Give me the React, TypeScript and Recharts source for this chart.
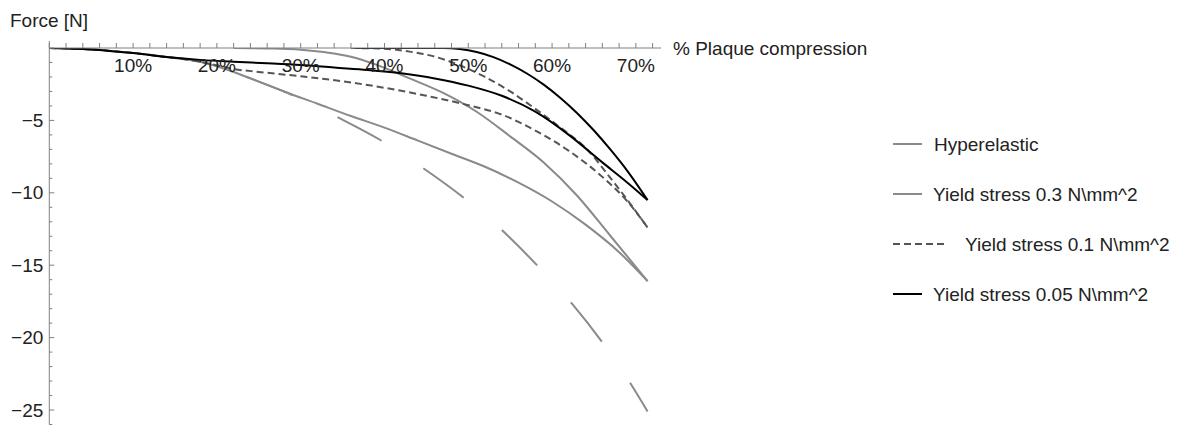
import React from 'react';
import { LineChart, Line, XAxis, YAxis, Legend, Label } from 'recharts';

// [% compression, force N]
const hyperelastic = [
  [0, 0], [5, -0.1], [10, -0.35], [14, -0.62], [18, -0.95], [21, -1.45], [24, -2.1], [28, -3.0],
  [31, -3.8], [34.3, -4.75], [39.7, -6.42], [44.6, -8.29], [49.5, -10.36], [54, -12.57],
  [58.3, -15.06], [62.3, -17.6], [66.1, -20.4], [69.4, -23.2], [71.4, -25.1],
];
const yield03Load = [
  [0, 0], [5, -0.1], [10, -0.35], [14, -0.62], [18, -0.95], [21, -1.45], [24, -2.1], [28, -3.0],
  [32, -3.85], [36, -4.7], [40, -5.5], [44, -6.4], [48, -7.3], [52, -8.2], [56, -9.3],
  [60, -10.6], [64, -12.2], [68, -14.1], [71.4, -16.1],
];
const yield03Reload = [
  [22, 0], [26, -0.03], [30, -0.12], [33, -0.3], [36, -0.6], [39, -1.15], [43, -2.1], [47, -3.1],
  [51, -4.4], [55, -6.1], [59, -7.9], [63, -10.2], [67, -13.0], [71.4, -16.1],
];
const yield01Load = [
  [0, 0], [5, -0.1], [10, -0.35], [14, -0.62], [18, -0.95], [20, -1.2], [22, -1.45], [25, -1.65],
  [30, -1.95], [35, -2.3], [40, -2.75], [45, -3.3], [50, -3.95], [54, -4.6], [58, -5.7],
  [62, -7.1], [66, -8.9], [69, -10.6], [71.4, -12.4],
];
const yield01Reload = [
  [36, 0], [40, -0.05], [43, -0.25], [46, -0.6], [49, -1.2], [52, -2.0], [55, -3.0], [58, -4.2],
  [61, -5.5], [64, -6.9], [67, -9.0], [69, -10.5], [71.4, -12.4],
];
const yield005Load = [
  [0, 0], [5, -0.1], [10, -0.35], [14, -0.62], [18, -0.82], [22, -0.95], [26, -1.05], [30, -1.17],
  [34, -1.35], [38, -1.52], [42, -1.75], [46, -2.1], [50, -2.6], [54, -3.3], [58, -4.4],
  [62, -6.0], [66, -7.9], [69, -9.3], [71.4, -10.5],
];
const yield005Reload = [
  [36.5, 0], [44, 0], [47, 0], [49, -0.07], [51, -0.28], [53, -0.63], [55, -1.13], [57, -1.76],
  [59, -2.53], [61, -3.45], [63, -4.5], [65, -5.7], [67, -7.04], [69, -8.5], [71.4, -10.5],
];

const xTicks = [0, 2, 4, 6, 8, 10, 12, 14, 16, 18, 20, 22, 24, 26, 28, 30, 32, 34, 36, 38, 40,
  42, 44, 46, 48, 50, 52, 54, 56, 58, 60, 62, 64, 66, 68, 70, 72];
const yTicks = [-26, -25, -24, -23, -22, -21, -20, -19, -18, -17, -16, -15, -14, -13, -12, -11,
  -10, -9, -8, -7, -6, -5, -4, -3, -2, -1, 0];

const legendItems = [
  { name: 'Hyperelastic', color: '#8a8a8a', dash: '', len: 29, gap: 12 },
  { name: 'Yield stress 0.3 N\\mm^2', color: '#8a8a8a', dash: '', len: 29, gap: 11 },
  { name: 'Yield stress 0.1 N\\mm^2', color: '#555555', dash: '7 4', len: 55, gap: 17 },
  { name: 'Yield stress 0.05 N\\mm^2', color: '#000000', dash: '', len: 29, gap: 11 },
];

const FONT = '"Liberation Sans", Arial, sans-serif';
const FS = 19;
const AXIS_X = 41.3;
const AXIS_Y = 40;
const AXIS_COLOR = '#808080';

const pts = (arr: number[][]) => arr.map(([x, y]) => ({ x, y }));

const XTick = (props: any) => {
  const { x, payload } = props;
  const v = payload.value;
  return (
    <g>
      <line x1={x} x2={x} y1={AXIS_Y} y2={AXIS_Y - 5} stroke={AXIS_COLOR} />
      {v % 10 === 0 && v > 0 && (
        <text x={x} y={AXIS_Y + 24} textAnchor="middle" fontSize={FS} fontFamily={FONT} fill="#222">
          {v}%
        </text>
      )}
    </g>
  );
};

const YTick = (props: any) => {
  const { y, payload } = props;
  const v = payload.value;
  const major = v % 5 === 0;
  return (
    <g>
      <line x1={AXIS_X} x2={AXIS_X + (major ? 5 : 3)} y1={y} y2={y} stroke={AXIS_COLOR} />
      {v === 0 && <line x1={AXIS_X} x2={AXIS_X} y1={y} y2={y - 7} stroke={AXIS_COLOR} />}
      {major && v !== 0 && (
        <text x={AXIS_X - 6} y={y} dy="0.35em" textAnchor="end" fontSize={FS} fontFamily={FONT} fill="#222">
          {'\u2212' + Math.abs(v)}
        </text>
      )}
    </g>
  );
};

const renderLegend = () => (
  <svg width={300} height={200} style={{ overflow: 'visible', display: 'block' }}>
    {legendItems.map((it, i) => {
      const cy = 16 + i * 50;
      return (
        <g key={it.name}>
          <line x1={0} x2={it.len} y1={cy} y2={cy} stroke={it.color} strokeWidth={2}
            strokeDasharray={it.dash || undefined} />
          <text x={it.len + it.gap} y={cy} dy="0.35em" fontSize={FS} fontFamily={FONT} fill="#222">
            {it.name}
          </text>
        </g>
      );
    })}
  </svg>
);

const series = [
  { key: 'hyper', data: hyperelastic, color: '#8a8a8a', dash: '50 50', width: 2 },
  { key: 'y03a', data: yield03Load, color: '#8a8a8a', dash: undefined, width: 2 },
  { key: 'y03b', data: yield03Reload, color: '#8a8a8a', dash: undefined, width: 2 },
  { key: 'y01a', data: yield01Load, color: '#555555', dash: '7 4', width: 2 },
  { key: 'y01b', data: yield01Reload, color: '#555555', dash: '7 4', width: 2 },
  { key: 'y005a', data: yield005Load, color: '#000000', dash: undefined, width: 2 },
  { key: 'y005b', data: yield005Reload, color: '#000000', dash: undefined, width: 2 },
];

export default function App() {
  return (
    <div style={{ width: 1174, height: 419 }}>
      <LineChart width={1174} height={419} margin={{ top: AXIS_Y - 1, right: 521, bottom: 2.5, left: AXIS_X - 1 }}>
        <XAxis
          type="number"
          dataKey="x"
          orientation="top"
          domain={[0, 73]}
          ticks={xTicks}
          interval={0}
          height={1}
          tickLine={false}
          axisLine={{ stroke: AXIS_COLOR }}
          tick={<XTick />}
          allowDataOverflow
        >
          <Label
            content={() => (
              <text x={665} y={AXIS_Y} dy="0.35em" fontSize={FS} fontFamily={FONT} fill="#222">
                % Plaque compression
              </text>
            )}
          />
        </XAxis>
        <YAxis
          type="number"
          domain={[-26, 0]}
          ticks={yTicks}
          interval={0}
          width={1}
          tickLine={false}
          axisLine={{ stroke: AXIS_COLOR }}
          tick={<YTick />}
          allowDataOverflow
        >
          <Label
            content={() => (
              <text x={2} y={12} dy="0.35em" fontSize={FS} fontFamily={FONT} fill="#222">
                Force [N]
              </text>
            )}
          />
        </YAxis>
        <Legend
          content={renderLegend}
          wrapperStyle={{ position: 'absolute', left: 885, top: 120, width: 0, height: 0 }}
        />
        {series.map((s) => (
          <Line
            key={s.key}
            data={pts(s.data)}
            dataKey="y"
            type="monotone"
            stroke={s.color}
            strokeWidth={s.width}
            strokeDasharray={s.dash}
            dot={false}
            activeDot={false}
            legendType="none"
            isAnimationActive={false}
          />
        ))}
      </LineChart>
    </div>
  );
}
